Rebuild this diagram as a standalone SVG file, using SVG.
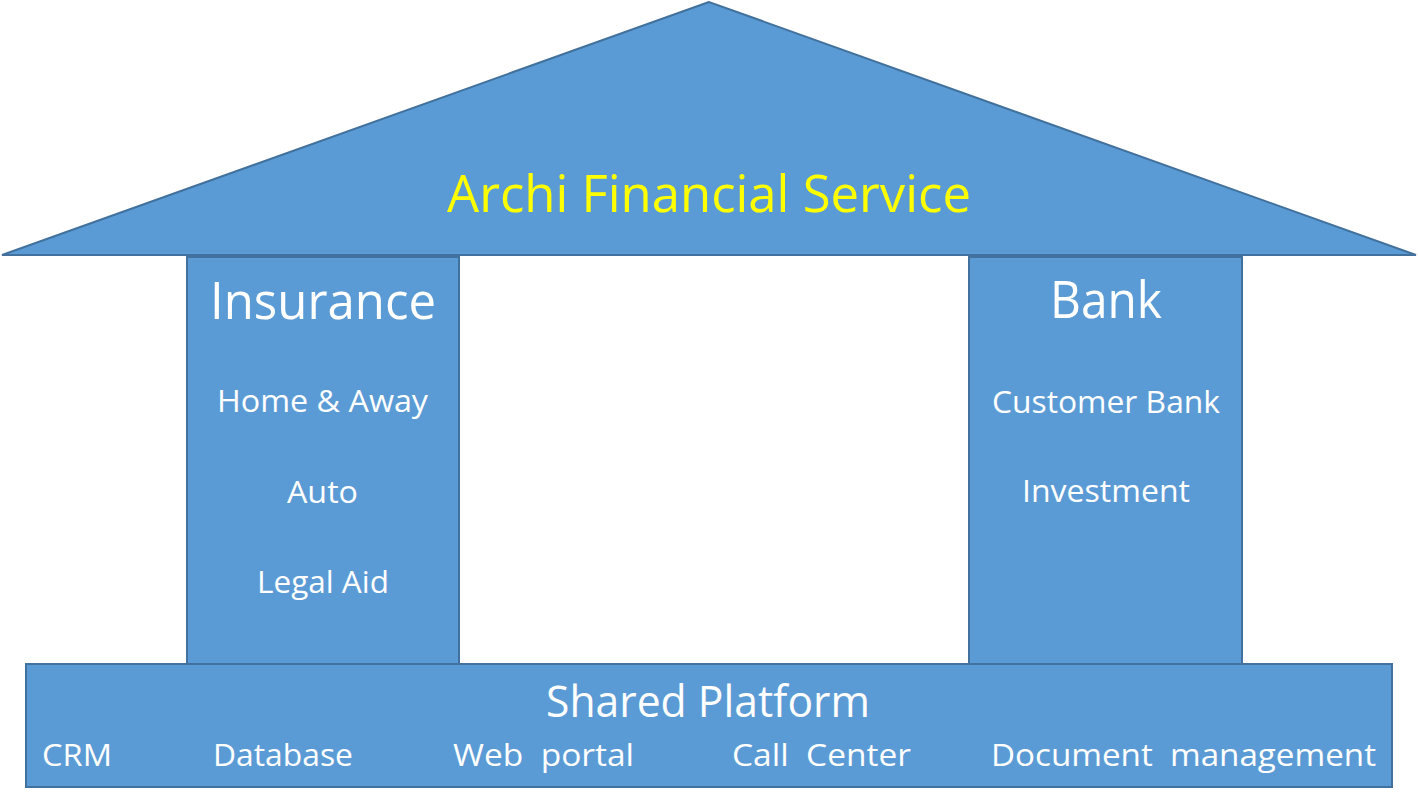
<svg xmlns="http://www.w3.org/2000/svg" width="1418" height="799" viewBox="0 0 1418 799">
<style>
.shape{fill:#5B9BD5;stroke:#41719C;stroke-width:2;stroke-linejoin:miter}
text{font-family:"Open Sans","Noto Sans","Liberation Sans",sans-serif;fill:#FFFFFF;text-anchor:start}
.big{font-size:52px}
.mid{font-size:44px}
.small{font-size:31px}
.title{fill:#FFFF00}
</style>
<rect x="0" y="0" width="1418" height="799" fill="#FFFFFF"/>
<g id="insurance">
<rect class="shape" x="187" y="257" width="272" height="407"/>
<text class="big" x="210" y="319" textLength="226" lengthAdjust="spacingAndGlyphs">Insurance</text>
<text class="small" x="217" y="412" textLength="211" lengthAdjust="spacingAndGlyphs">Home &amp; Away</text>
<text class="small" x="287" y="503" textLength="71" lengthAdjust="spacingAndGlyphs">Auto</text>
<text class="small" x="257" y="593" textLength="132" lengthAdjust="spacingAndGlyphs">Legal Aid</text>
</g>
<g id="bank">
<rect class="shape" x="969" y="257" width="273" height="407"/>
<text class="big" x="1050" y="318" textLength="112" lengthAdjust="spacingAndGlyphs">Bank</text>
<text class="small" x="992" y="413" textLength="228" lengthAdjust="spacingAndGlyphs">Customer Bank</text>
<text class="small" x="1022" y="502" textLength="168" lengthAdjust="spacingAndGlyphs">Investment</text>
</g>
<g id="roof">
<polygon class="shape" points="709,2 2,255 1416,255"/>
<text class="big title" x="447" y="212" textLength="524" lengthAdjust="spacingAndGlyphs">Archi Financial Service</text>
</g>
<g id="platform">
<rect class="shape" x="26" y="664" width="1366" height="123"/>
<text class="mid" x="546" y="717" textLength="324" lengthAdjust="spacingAndGlyphs">Shared Platform</text>
<text class="small" x="42" y="766" textLength="70" lengthAdjust="spacingAndGlyphs">CRM</text>
<text class="small" x="213" y="766" textLength="140" lengthAdjust="spacingAndGlyphs">Database</text>
<text class="small" x="453" y="766" textLength="181" lengthAdjust="spacingAndGlyphs" xml:space="preserve">Web  portal</text>
<text class="small" x="732" y="766" textLength="179" lengthAdjust="spacingAndGlyphs" xml:space="preserve">Call  Center</text>
<text class="small" x="991" y="766" textLength="385" lengthAdjust="spacingAndGlyphs" xml:space="preserve">Document  management</text>
</g>
</svg>
